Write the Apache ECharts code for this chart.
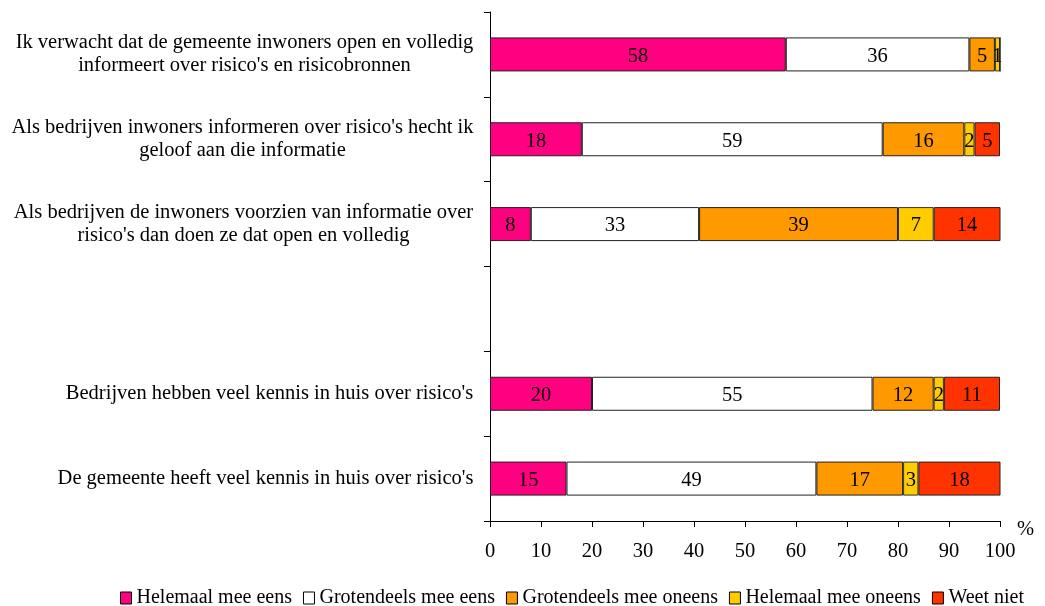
<!DOCTYPE html>
<html lang="nl">
<head>
    <meta charset="UTF-8">
    <title>Risicocommunicatie</title>
    <script src="https://cdn.jsdelivr.net/npm/echarts@6/dist/echarts.min.js"></script>
    <style>
        html, body { margin: 0; padding: 0; background: #fff; }
        #chart { width: 1045px; height: 606px; }
    </style>
</head>
<body>
    <div id="chart"></div>
    <script>
        // categorieen (van boven naar beneden), lege rij = tussenruimte
        var categories = [
            "Ik verwacht dat de gemeente inwoners open en volledig\ninformeert over risico's en risicobronnen",
            "Als bedrijven inwoners informeren over risico's hecht ik\ngeloof aan die informatie",
            "Als bedrijven de inwoners voorzien van informatie over\nrisico's dan doen ze dat open en volledig",
            "",
            "Bedrijven hebben veel kennis in huis over risico's",
            "De gemeente heeft veel kennis in huis over risico's"
        ];
        var seriesNames = ['Helemaal mee eens', 'Grotendeels mee eens', 'Grotendeels mee oneens', 'Helemaal mee oneens', 'Weet niet'];
        var helemaalEens      = [58, 18, 8, null, 20, 15];
        var grotendeelsEens   = [36, 59, 33, null, 55, 49];
        var grotendeelsOneens = [5, 16, 39, null, 12, 17];
        var helemaalOneens    = [1, 2, 7, null, 2, 3];
        var weetNiet          = [0, 5, 14, null, 11, 18];
        var xTicks = [0, 10, 20, 30, 40, 50, 60, 70, 80, 90, 100];

        var colors = ['#FF0080', '#FFFFFF', '#FF9900', '#FFCC00', '#FF3300'];
        var values = [helemaalEens, grotendeelsEens, grotendeelsOneens, helemaalOneens, weetNiet];
        var font = '"Liberation Serif", "Times New Roman", serif';
        var fs = 20.5;

        // breedte per label meten zodat regels onderling gecentreerd staan
        var ctx = document.createElement('canvas').getContext('2d');
        ctx.font = fs + 'px ' + font;
        var rich = {};
        categories.forEach(function (c, i) {
            var w = 0;
            c.split('\n').forEach(function (l) { w = Math.max(w, ctx.measureText(l).width); });
            rich['r' + i] = { width: Math.ceil(w) + 1, align: 'center', fontSize: fs, lineHeight: 23, fontFamily: font, color: '#000' };
        });

        var myChart = echarts.init(document.getElementById('chart'));

        var series = seriesNames.map(function (name, i) {
            return {
                name: name,
                type: 'bar',
                stack: 'totaal',
                barWidth: 34,
                data: values[i],
                itemStyle: {
                    color: colors[i],
                    borderColor: i === 3 ? '#333' : '#222',
                    borderWidth: 1
                },
                label: {
                    show: true,
                    position: 'inside',
                    color: '#000',
                    fontSize: fs,
                    fontFamily: font,
                    offset: [0, 2],
                    formatter: function (p) { return p.value ? String(p.value) : ''; }
                }
            };
        });

        var option = {
            animation: false,
            backgroundColor: '#fff',
            textStyle: { fontFamily: font },
            grid: { left: 490, right: 45, top: 12, bottom: 85, outerBoundsMode: 'none', containLabel: false },
            legend: {
                data: seriesNames,
                left: 120,
                top: 588,
                width: 940,
                padding: 0,
                itemWidth: 11,
                itemHeight: 12,
                itemGap: 11,
                icon: 'rect',
                itemStyle: { borderColor: '#000', borderWidth: 1 },
                textStyle: { fontSize: 20, fontFamily: font, color: '#000' }
            },
            xAxis: {
                type: 'value',
                min: 0,
                max: 100,
                interval: 10,
                name: '%',
                nameLocation: 'end',
                nameGap: 17,
                nameTextStyle: { fontSize: fs, fontFamily: font, color: '#000', verticalAlign: 'top', padding: [-2, 0, 0, 0] },
                axisLine: { show: true, lineStyle: { color: '#000', width: 1 } },
                axisTick: { show: true, length: 6, lineStyle: { color: '#000' } },
                axisLabel: {
                    fontSize: fs, fontFamily: font, color: '#000', margin: 20,
                    formatter: function (v) { return xTicks.indexOf(v) >= 0 ? String(v) : ''; }
                },
                splitLine: { show: false }
            },
            yAxis: {
                type: 'category',
                inverse: true,
                data: categories,
                axisLine: { show: true, lineStyle: { color: '#000', width: 1 } },
                axisTick: { show: true, length: 6, lineStyle: { color: '#000' } },
                axisLabel: {
                    margin: 16,
                    fontSize: fs,
                    fontFamily: font,
                    color: '#000',
                    lineHeight: 23,
                    rich: rich,
                    formatter: function (v, idx) {
                        if (!v) return '';
                        return v.split('\n').map(function (l) { return '{r' + idx + '|' + l + '}'; }).join('\n');
                    }
                }
            },
            series: series
        };
        myChart.setOption(option);
    </script>
</body>
</html>
